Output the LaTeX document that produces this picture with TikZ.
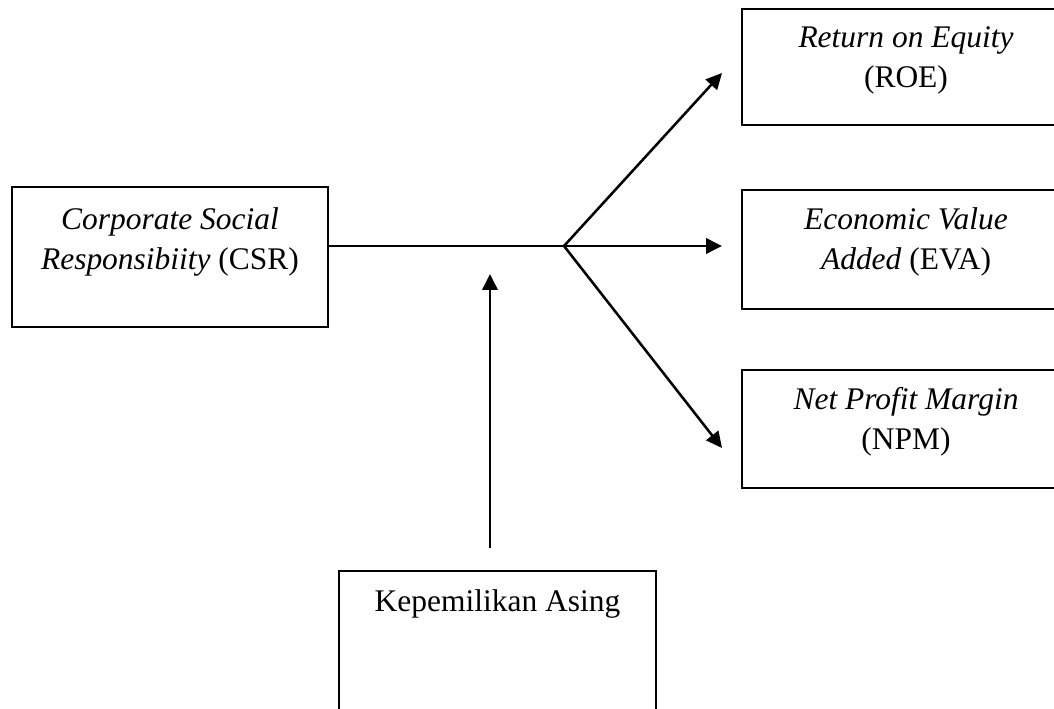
\documentclass[tikz,border=0pt]{standalone}
\usepackage{fontspec}
\setmainfont{Liberation Serif}
\usetikzlibrary{arrows.meta}
\begin{document}
\begin{tikzpicture}[x=0.75pt,y=-0.75pt,
  boxstyle/.style={draw=black,line width=1.4pt,rectangle,inner sep=0pt},
  txt/.style={anchor=base,inner sep=0pt,font=\fontsize{23.6}{27.6}\selectfont},
  arr/.style={line width=1.9pt,-{Triangle[length=12pt,width=11.5pt]}}]
\clip (0,0) rectangle (1054,709);
\fill[white] (0,0) rectangle (1054,709);
% boxes
\node[boxstyle,minimum width=237pt,minimum height=105pt] (csr) at (170,257) {};
\node[txt] (csr1) at (170,230) {\textit{Corporate Social}};
\node[txt] (csr2) at (170,270) {\textit{Responsibiity} (CSR)};

\node[boxstyle,minimum width=246pt,minimum height=87pt] (roe) at (906,67) {};
\node[txt] (roe1) at (906,48) {\textit{Return on Equity}};
\node[txt] (roe2) at (906,88) {(ROE)};

\node[boxstyle,minimum width=246pt,minimum height=89.25pt] (eva) at (906,249.5) {};
\node[txt] (eva1) at (906,230) {\textit{Economic Value}};
\node[txt] (eva2) at (906,270) {\textit{Added} (EVA)};

\node[boxstyle,minimum width=246pt,minimum height=88.5pt] (npm) at (906,429) {};
\node[txt] (npm1) at (906,410) {\textit{Net Profit Margin}};
\node[txt] (npm2) at (906,450) {(NPM)};

\node[boxstyle,minimum width=237.75pt,minimum height=126.75pt] (kep) at (497.5,655.5) {};
\node[txt] (kep1) at (497.5,611) {Kepemilikan Asing};

% connectors
\coordinate (J) at (564,246);
\coordinate (roeT) at (722,73);
\coordinate (evaT) at (722,246);
\coordinate (npmT) at (722,448);
\coordinate (kepS) at (490,548);
\coordinate (kepT) at (490,274);
\draw[line width=1pt] (csr.east |- J) -- (J);
\draw[arr] (J) -- (roeT);
\draw[arr] (J) -- (evaT);
\draw[arr] (J) -- (npmT);
\draw[arr] (kepS) -- (kepT);
\end{tikzpicture}
\end{document}
